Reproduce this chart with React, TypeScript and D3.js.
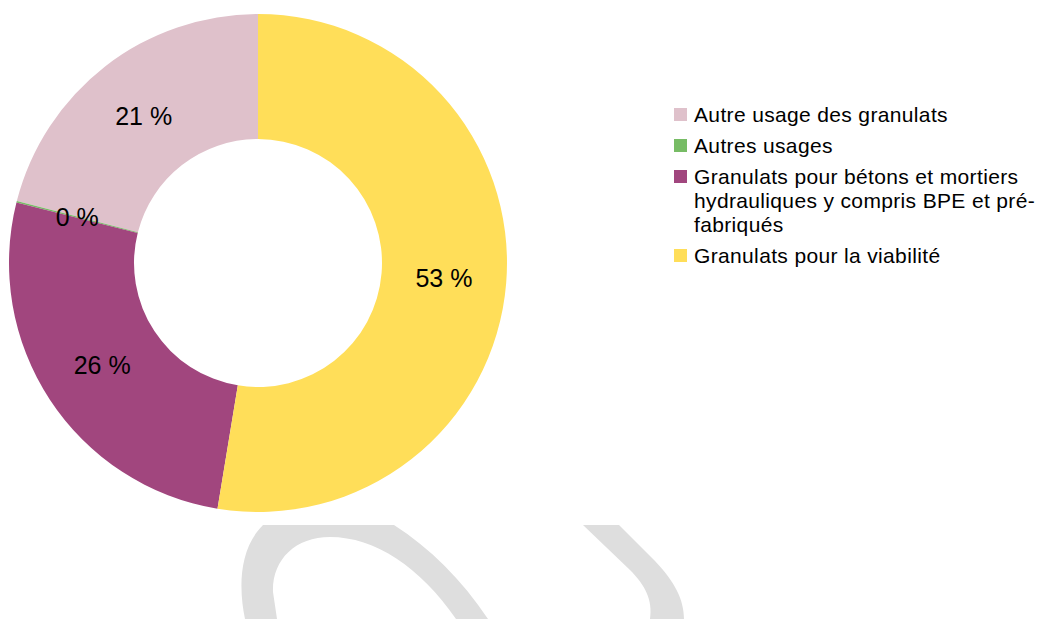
import React from 'react';
import * as d3 from 'd3';

// Data (legend order; LibreOffice draws counter-clockwise from 12 o'clock)
const categories = [
  'Autre usage des granulats',
  'Autres usages',
  'Granulats pour bétons et mortiers hydrauliques y compris BPE et pré-fabriqués',
  'Granulats pour la viabilité',
];
const values = [21.0, 0.1, 26.3, 52.6];
const percentLabels = ['21 %', '0 %', '26 %', '53 %'];
const legendLines = [
  ['Autre usage des granulats'],
  ['Autres usages'],
  ['Granulats pour bétons et mortiers', 'hydrauliques y compris BPE et pré-', 'fabriqués'],
  ['Granulats pour la viabilité'],
];
const colors = ['#dfc1cb', '#77bc65', '#a1467e', '#ffde59'];

const W = 1039;
const H = 619;
const cx = 258;
const cy = 263;
const outerR = 249;
const innerR = 124;
const font = '"Liberation Sans", Arial, sans-serif';

type Row = { name: string; value: number; i: number };

const App: React.FC = () => {
  const rows: Row[] = categories.map((name, i) => ({ name, value: values[i], i }));
  const pie = d3.pie<Row>()
    .value(d => d.value)
    .sort(null)
    .startAngle(0)
    .endAngle(-2 * Math.PI);
  const arcs = pie(rows);
  const arc = d3.arc<d3.PieArcDatum<Row>>()
    .innerRadius(innerR)
    .outerRadius(outerR);
  const labelArc = d3.arc<d3.PieArcDatum<Row>>()
    .innerRadius((innerR + outerR) / 2)
    .outerRadius((innerR + outerR) / 2);

  // legend layout
  const lineH = 24;
  const gap = 7;
  let y = 114.5;
  const legend = legendLines.map((lines, i) => {
    const item = { lines, i, y };
    y += lines.length * lineH + gap;
    return item;
  });

  return (
    <svg width={W} height={H} style={{ position: 'absolute', left: 0, top: 0, background: '#fff' }}>
      {/* watermark */}
      <g fill="#dedede">
        <path d="M263,525 L394,525 C430,548 462,580 488,619 L456,619 C420,567 375,537 330,537 C295,537 272,560 273,592 L277,619 L245,619 C239,590 238,550 263,525 Z" />
        <path d="M583,525 L619,525 L655,561 C675,582 684,600 684,619 L650,619 C653,600 645,585 630,570 Z" />
      </g>
      <g transform={`translate(${cx},${cy})`}>
        {arcs.map(a => (
          <path key={a.data.name} d={arc(a) || ''} fill={colors[a.data.i]} />
        ))}
        {arcs.map(a => {
          const [x, yy] = labelArc.centroid(a);
          return (
            <text key={'l' + a.data.name} x={x} y={yy} dy="0.36em" textAnchor="middle"
              fontFamily={font} fontSize={25} fill="#000">
              {percentLabels[a.data.i]}
            </text>
          );
        })}
      </g>
      <g fontFamily={font} fontSize={21} fill="#000" letterSpacing={0.35}>
        {legend.map(item => (
          <g key={item.i}>
            <rect x={674} y={item.y - 6.5} width={13} height={13} fill={colors[item.i]} />
            {item.lines.map((l, j) => (
              <text key={j} x={694} y={item.y + j * lineH} dy="0.35em">{l}</text>
            ))}
          </g>
        ))}
      </g>
    </svg>
  );
};

export default App;
